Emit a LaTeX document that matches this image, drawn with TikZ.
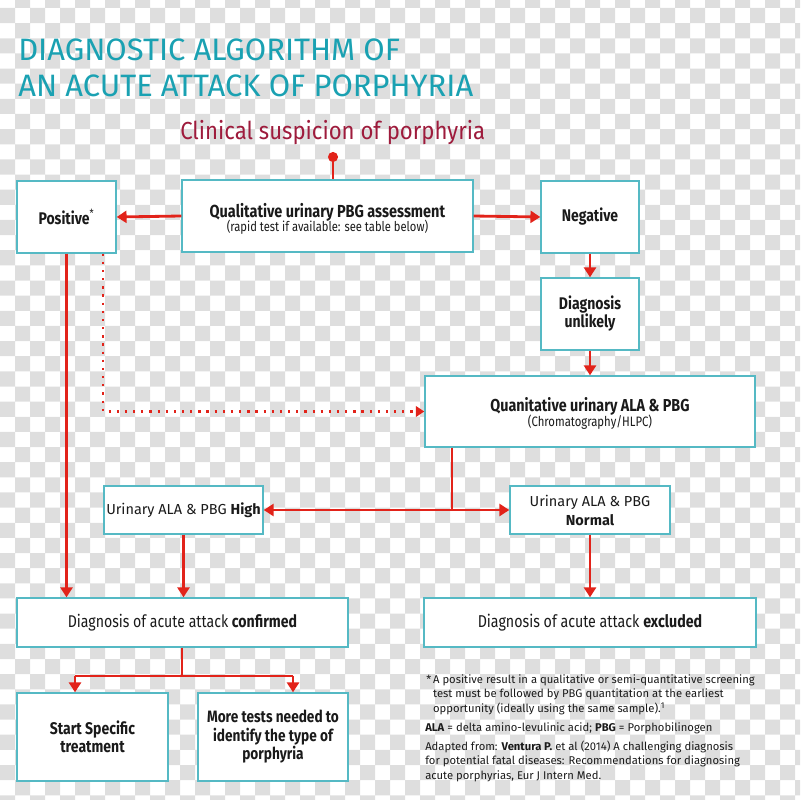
\documentclass[tikz,border=0pt]{standalone}
\usepackage{fontspec}
\setmainfont{Fira Sans}[FakeStretch=0.83]
\newfontfamily\plainfont{Fira Sans}
\newfontfamily\midfont{Fira Sans}[FakeStretch=0.9]
\usetikzlibrary{arrows.meta, calc}

\definecolor{checkgray}{HTML}{DEDEDE}
\definecolor{titleteal}{HTML}{1AA1B2}
\definecolor{boxteal}{HTML}{55B9C4}
\definecolor{arrowred}{HTML}{E2231A}
\definecolor{suspred}{HTML}{9E1B3C}
\definecolor{inkblack}{HTML}{1A1A1A}

\tikzset{
	boxsize/.style 2 args = {minimum width = #1*0.025cm, minimum height = #2*0.025cm},
	box/.style = {draw = boxteal, line width = 1pt, fill = white, inner sep = 0pt, align = center, text = inkblack},
	link/.style = {draw = arrowred, line width = 2pt},
	tip/.tip = {Triangle[length = 7pt, width = 8.5pt]},
	arrow/.style = {link, -tip},
	dotline/.style = {draw = arrowred, line width = 1.6pt, dash pattern = on 1.6pt off 4.2pt, -{Triangle[length = 6pt, width = 7.5pt]}},
	note/.style = {inner sep = 0pt, align = left, text = inkblack, font = \plainfont\fontsize{8}{10.3}\selectfont},
}

\begin{document}
\begin{tikzpicture}[x = 0.025cm, y = -0.025cm]
		\useasboundingbox (0,0) rectangle (800,800);
		
		% background squares
		\begin{scope}
			\clip (0,0) rectangle (800,800);
			\fill [checkgray] \foreach \i in {0,2,...,52} {\foreach \j in {0,2,...,52} {
				(\i*15+15, \j*15.14-7.14) rectangle ++(15,15.14)
				(\i*15, \j*15.14+8) rectangle ++(15,15.14)}};
		\end{scope}
		
		\begin{scope}
			\node [anchor = base west, inner sep = 0pt, align = left, text = titleteal, font = \plainfont\fontsize{22}{26.3}\selectfont] (title) at (18,97) {DIAGNOSTIC ALGORITHM OF\\AN ACUTE ATTACK OF PORPHYRIA};
			\node [anchor = base west, inner sep = 0pt, text = suspred, font = \midfont\fontsize{17.5}{20}\selectfont] (suspicion) at (180,140) {Clinical suspicion of porphyria};
		\end{scope}
		
		\begin{scope}
			\node [box, boxsize = {99}{72}, font = \fontsize{12}{13}\selectfont\bfseries] (pos) at (66.5,217) {Positive{\mdseries\textsuperscript{*}}};
			\node [box, boxsize = {291}{72}, font = \fontsize{12.4}{13}\selectfont] (qual) at (327.5,216) {\rule{0pt}{14pt}\textbf{Qualitative urinary PBG assessment}\\[-3pt]{\fontsize{9.6}{13}\selectfont (rapid test if available: see table below)}};
			\node [box, boxsize = {98}{72}, font = \fontsize{12}{13}\selectfont\bfseries] (neg) at (590,217) {Negative};
			\node [box, boxsize = {98}{72}, font = \fontsize{12}{12.8}\selectfont\bfseries] (unlikely) at (590,314) {Diagnosis\\unlikely};
			\node [box, boxsize = {330}{71}, font = \fontsize{12.3}{13}\selectfont] (quan) at (590,411.5) {\rule{0pt}{13pt}\textbf{Quanitative urinary ALA \& PBG}\\[-2pt]{\fontsize{9.7}{13}\selectfont (Chromatography/HLPC)}};
			\node [box, boxsize = {159}{48}, font = \plainfont\fontsize{10.3}{13.5}\selectfont] (high) at (183.5,510) {Urinary ALA \& PBG \textbf{High}};
			\node [box, boxsize = {160}{48}, font = \plainfont\fontsize{10.3}{13.5}\selectfont] (normal) at (590,510) {Urinary ALA \& PBG\\\textbf{Normal}};
			\node [box, boxsize = {331}{49}, font = \fontsize{12.1}{13}\selectfont] (confirmed) at (182.5,622.5) {Diagnosis of acute attack \textbf{confirmed}};
			\node [box, boxsize = {332}{49}, font = \fontsize{12.2}{13}\selectfont] (excluded) at (590,622.5) {Diagnosis of acute attack \textbf{excluded}};
			\node [box, boxsize = {151}{88}, font = \fontsize{12}{13.2}\selectfont\bfseries] (treat) at (92.5,737) {Start Specific\\treatment};
			\node [box, boxsize = {150}{88}, font = \fontsize{11.7}{13.2}\selectfont\bfseries] (tests) at (273,737) {More tests needed to\\identify the type of\\porphyria};
		\end{scope}
		
		\begin{scope}
			\coordinate (dot) at (333,157);
			\coordinate (split) at (452,510);
			\coordinate (fork) at (182,676);
			\coordinate (forkl) at (75,676);
			\coordinate (forkr) at (293,676);
			
			\fill [arrowred] (dot) circle [radius = 3.6pt];
			\draw [link] (dot) -- (dot |- qual.north);
			\draw [arrow] (qual.west) -- (pos.east);
			\draw [arrow] (qual.east) -- (neg.west);
			\draw [arrow] (neg.south) -- (unlikely.north);
			\draw [arrow] (unlikely.south) -- (quan.north);
			\draw [dotline] (pos.south -| high.west) |- (quan.west);
			\draw [arrow] (pos.south) -- (pos.south |- confirmed.north);
			\draw [link] (split |- quan.south) -- (split);
			\draw [link, tip-tip] (high.east) -- (normal.west);
			\draw [arrow] (high.south) -- (high.south |- confirmed.north);
			\draw [arrow] (normal.south) -- (excluded.north);
			\draw [link] (confirmed.south -| fork) -- (fork);
			\draw [link] (forkl) -- (forkr);
			\draw [arrow] (forkl) -- (forkl |- treat.north);
			\draw [arrow] (forkr) -- (forkr |- tests.north);
		\end{scope}
		
		\begin{scope}
			\node [note, anchor = base west] (star) at (426,712) {*\,A positive result in a qualitative or semi-quantitative screening\\\hphantom{*\,}test must be followed by PBG quantitation at the earliest\\\hphantom{*\,}opportunity (ideally using the same sample).\textsuperscript{1}};
			\node [note, anchor = base west] (abbrev) at (425,731) {\textbf{ALA} = delta amino-levulinic acid; \textbf{PBG} = Porphobilinogen};
			\node [note, anchor = base west] (source) at (425,779) {Adapted from: \textbf{Ventura P.} et al (2014) A challenging diagnosis\\for potential fatal diseases: Recommendations for diagnosing\\acute porphyrias, Eur J Intern Med.};
		\end{scope}
	\end{tikzpicture}
\end{document}
